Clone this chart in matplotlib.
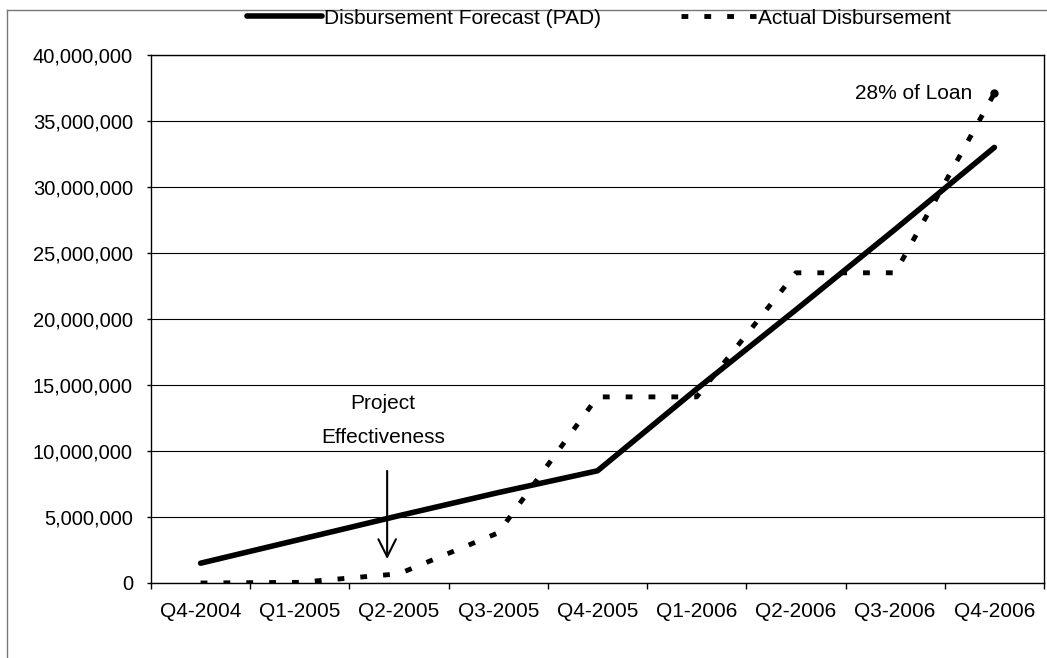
"""
Disbursement forecast (PAD) vs actual disbursement, quarterly, Q4-2004 to Q4-2006
"""

import matplotlib
matplotlib.use('Agg')
import matplotlib.pyplot as plt
from matplotlib.ticker import FuncFormatter, MultipleLocator
from matplotlib.lines import Line2D
import numpy as np

plt.rcParams['font.family'] = ['Liberation Sans', 'DejaVu Sans']

# Data
quarters = ['Q4-2004', 'Q1-2005', 'Q2-2005', 'Q3-2005', 'Q4-2005',
            'Q1-2006', 'Q2-2006', 'Q3-2006', 'Q4-2006']
forecast = [1_500_000, 3_300_000, 5_100_000, 6_850_000, 8_500_000,
            14_700_000, 20_700_000, 26_800_000, 33_000_000]
actual = [0, 50_000, 700_000, 3_800_000, 14_100_000,
          14_100_000, 23_500_000, 23_500_000, 37_100_000]

x = np.arange(len(quarters))

fig = plt.figure(figsize=(10.47, 6.58), dpi=100)
ax = fig.add_axes([151 / 1047, 75 / 658, 893 / 1047, 528 / 658])

# Lines
ax.plot(x, forecast, color='black', lw=4, solid_capstyle='round',
        solid_joinstyle='round', label='Disbursement Forecast (PAD)', zorder=3)
ax.plot(x, actual, color='black', lw=3.5, linestyle=(0, (1.4, 3.3)),
        label='Actual Disbursement', zorder=3)
ax.plot(x[-1], actual[-1], 'o', color='black', ms=5, zorder=4)

# Axes
ax.set_xlim(-0.5, len(quarters) - 0.5)
ax.set_ylim(0, 40_000_000)
ax.yaxis.set_major_locator(MultipleLocator(5_000_000))
ax.yaxis.set_major_formatter(FuncFormatter(lambda v, p: f'{v:,.0f}'))
ax.set_xticks(x)
ax.set_xticklabels(quarters)
ax.set_xticks(np.arange(-0.5, len(quarters), 1), minor=True)
ax.tick_params(axis='x', which='major', length=0, pad=14, labelsize=15)
ax.tick_params(axis='x', which='minor', length=4, width=1, direction='out')
ax.tick_params(axis='y', length=3, width=1, direction='out', pad=10, labelsize=14.5)
ax.grid(axis='y', color='black', lw=0.8)
ax.set_axisbelow(True)
for s in ax.spines.values():
    s.set_color('black')
    s.set_linewidth(1)

# Annotations
ax.text(1.84, 13_600_000, 'Project', ha='center', va='center', fontsize=15)
ax.text(1.84, 11_000_000, 'Effectiveness', ha='center', va='center', fontsize=15)
ax.annotate('', xy=(1.88, 1_600_000), xytext=(1.88, 8_700_000),
            arrowprops=dict(arrowstyle='->,head_length=0.7,head_width=0.35',
                            lw=1.5, color='black', mutation_scale=18))
ax.annotate('28% of Loan', xy=(x[-1], actual[-1]), xytext=(-16, 0),
            textcoords='offset points', ha='right', va='center', fontsize=15)

# Legend on top, outside plot area
fig.legend(loc='center', bbox_to_anchor=(599 / 1047, 1 - 18 / 658), ncol=2,
           frameon=False, fontsize=15, handlelength=3.6, handletextpad=0.1,
           columnspacing=3.8, borderpad=0)

# Outer chart frame (top and left edges visible in the scan)
fig.add_artist(Line2D([7 / 1047, 7 / 1047], [0, 1 - 10 / 658],
                      transform=fig.transFigure, color='#777777', lw=1))
fig.add_artist(Line2D([7 / 1047, 1], [1 - 10 / 658, 1 - 10 / 658],
                      transform=fig.transFigure, color='#777777', lw=1))

plt.savefig('out.png', dpi=100)
plt.close()
